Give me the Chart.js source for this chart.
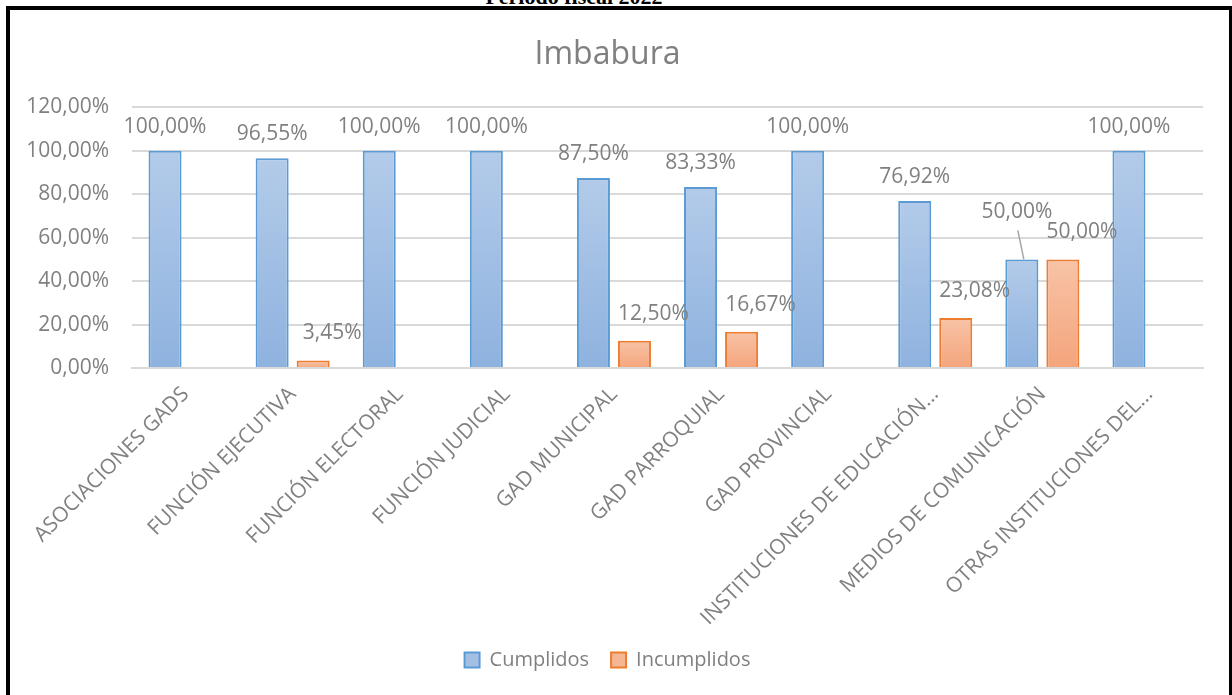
<!DOCTYPE html>
<html>
<head>
<meta charset="utf-8">
<script src="https://cdn.jsdelivr.net/npm/chart.js@4"></script>
<style>
  body { margin: 0; background: #fff; width: 1232px; height: 695px; overflow: hidden; position: relative; }
  #periodo { position: absolute; left: 0; width: 1148px; top: -16px; text-align: center;
    font: bold 22px "Liberation Serif", "DejaVu Serif", serif; color: #000; }
  #marco { position: absolute; left: 6px; top: 6px; width: 1219px; height: 720px; border: 4px solid #000; }
  #wrap { position: absolute; left: 0; top: 0; width: 1232px; height: 695px; }
</style>
</head>
<body>
<div id="periodo">Período fiscal 2022</div>
<div id="wrap"><canvas id="grafico"></canvas></div>
<div id="marco"></div>
<script>
const categorias = [
  "ASOCIACIONES GADS",
  "FUNCIÓN EJECUTIVA",
  "FUNCIÓN ELECTORAL",
  "FUNCIÓN JUDICIAL",
  "GAD MUNICIPAL",
  "GAD PARROQUIAL",
  "GAD PROVINCIAL",
  "INSTITUCIONES DE EDUCACIÓN...",
  "MEDIOS DE COMUNICACIÓN",
  "OTRAS INSTITUCIONES DEL..."
];
const cumplidos = [100, 96.55, 100, 100, 87.5, 83.33, 100, 76.92, 50, 100];
const incumplidos = [null, 3.45, null, null, 12.5, 16.67, null, 23.08, 50, null];

const gris = "#808080";
const fuente = "'Open Sans', 'Noto Sans', sans-serif";

function formato(v) {
  return v.toFixed(2).replace(".", ",") + "%";
}

// degradado por barra, claro arriba y más oscuro abajo
function degradado(arriba, abajo) {
  return function(ctx) {
    const chart = ctx.chart;
    const v = ctx.raw;
    if (!chart.chartArea || !chart.scales.y || v == null) return abajo;
    const y0 = chart.scales.y.getPixelForValue(v);
    const y1 = chart.scales.y.getPixelForValue(0);
    const g = chart.ctx.createLinearGradient(0, y0, 0, y1 + 1);
    g.addColorStop(0, arriba);
    g.addColorStop(1, abajo);
    return g;
  };
}

const etiquetas = {
  id: "etiquetas",
  afterDatasetsDraw(chart) {
    const ctx = chart.ctx;
    const azul = chart.getDatasetMeta(0).data;
    const naranja = chart.getDatasetMeta(1).data;
    ctx.save();
    ctx.font = "21px " + fuente;
    ctx.fillStyle = gris;
    ctx.textAlign = "center";
    ctx.textBaseline = "middle";
    const cajas = [];
    naranja.forEach(function(bar, i) {
      const v = incumplidos[i];
      if (v == null) return;
      const x = bar.x + 19, y = bar.y - 27;
      ctx.fillText(formato(v), x, y);
      const w = ctx.measureText(formato(v)).width;
      cajas[i] = { l: x - w / 2, r: x + w / 2, t: y - 11, b: y + 11 };
    });
    azul.forEach(function(bar, i) {
      const v = cumplidos[i];
      const texto = formato(v);
      const w = ctx.measureText(texto).width;
      let x = bar.x, y = bar.y - 24;
      const c = cajas[i];
      if (c && x + w / 2 > c.l && y + 11 > c.t && y - 11 < c.b) {
        // se cruza con la etiqueta naranja: subir y poner línea guía
        x = bar.x - 5;
        y = bar.y - 47;
        ctx.strokeStyle = "#a6a6a6";
        ctx.lineWidth = 1.5;
        ctx.beginPath();
        ctx.moveTo(x + 1, y + 18);
        ctx.lineTo(bar.x + 2, bar.y);
        ctx.stroke();
      }
      ctx.fillText(texto, x, y);
    });
    ctx.restore();
  }
};

new Chart(document.getElementById("grafico"), {
  type: "bar",
  data: {
    labels: categorias,
    datasets: [
      {
        label: "Cumplidos",
        data: cumplidos,
        backgroundColor: degradado("#b3cbe9", "#8eb2df"),
        borderColor: "#5b9bd5",
        borderWidth: 2,
        borderSkipped: "bottom",
        categoryPercentage: 0.766,
        barPercentage: 0.805
      },
      {
        label: "Incumplidos",
        data: incumplidos,
        backgroundColor: degradado("#f8c3a7", "#f4a47b"),
        borderColor: "#ed7d31",
        borderWidth: 2,
        borderSkipped: "bottom",
        categoryPercentage: 0.766,
        barPercentage: 0.805
      }
    ]
  },
  options: {
    responsive: true,
    maintainAspectRatio: false,
    animation: false,
    events: [],
    layout: { padding: { top: 0, left: 12, right: 29, bottom: 15 } },
    scales: {
      x: {
        grid: { display: false, drawTicks: false },
        border: { color: "#d9d9d9", width: 2 },
        ticks: {
          color: gris,
          font: { family: fuente, size: 21 },
          minRotation: 45,
          maxRotation: 45,
          autoSkip: false,
          padding: 14
        },
        afterFit(scale) { scale.height = 260; }
      },
      y: {
        min: 0,
        max: 120,
        grid: { color: "#d9d9d9", lineWidth: 2, drawTicks: false },
        border: { display: false },
        ticks: {
          stepSize: 20,
          color: gris,
          font: { family: fuente, size: 21 },
          padding: 23,
          callback: function(v) { return formato(v); }
        },
        afterFit(scale) { scale.width = 120; }
      }
    },
    plugins: {
      title: {
        display: true,
        text: "Imbabura",
        color: gris,
        font: { family: fuente, size: 32, weight: "normal" },
        padding: { top: 36, bottom: 33 }
      },
      legend: {
        position: "bottom",
        labels: {
          color: gris,
          font: { family: fuente, size: 20 },
          boxWidth: 15,
          boxHeight: 15,
          padding: 22,
          generateLabels: function(chart) {
            return chart.data.datasets.map(function(ds, i) {
              return {
                text: ds.label,
                fillStyle: i === 0 ? "#a3c0e4" : "#f6b694",
                strokeStyle: ds.borderColor,
                lineWidth: 2,
                fontColor: gris,
                datasetIndex: i
              };
            });
          }
        }
      },
      tooltip: { enabled: false }
    }
  },
  plugins: [etiquetas]
});
</script>
</body>
</html>
